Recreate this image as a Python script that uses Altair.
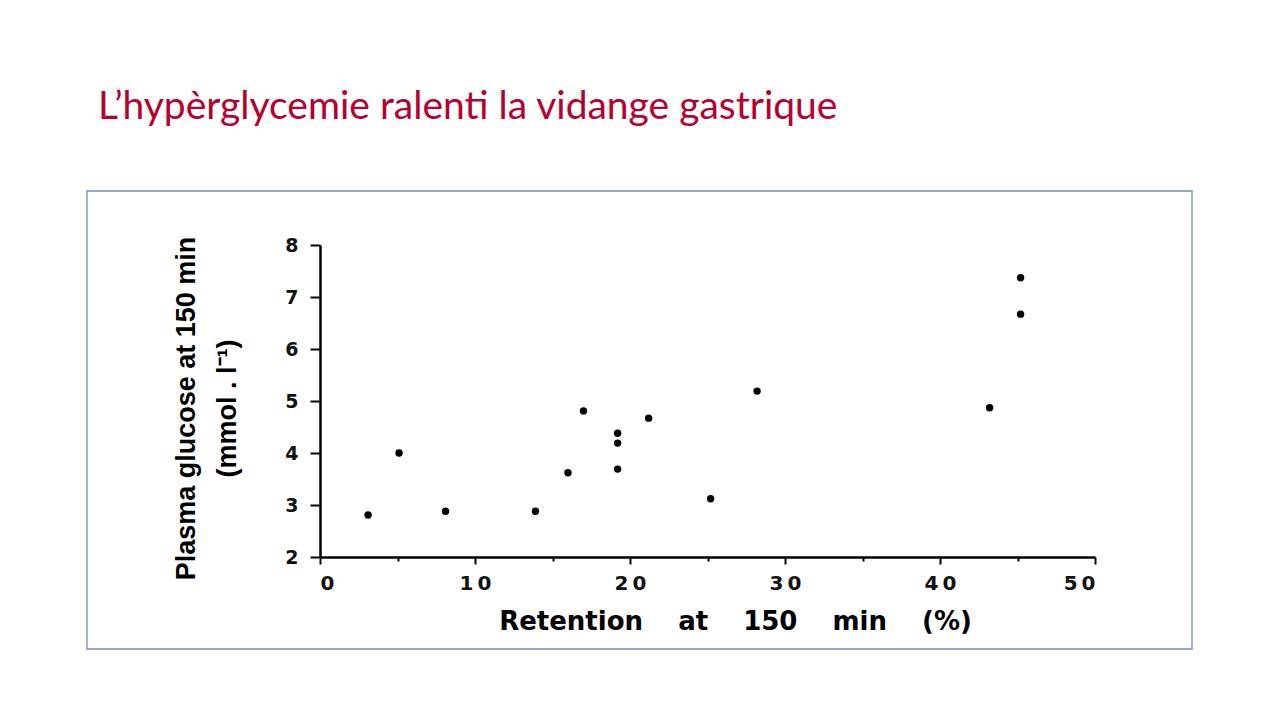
import altair as alt
import pandas as pd

# ---- data ----
retention = [3.1, 5.1, 8.1, 13.9, 16.0, 17.0, 19.2, 19.2, 19.2, 21.2, 25.2, 28.2, 43.2, 45.2, 45.2]
glucose = [2.81, 4.00, 2.88, 2.88, 3.62, 4.81, 3.69, 4.19, 4.38, 4.67, 3.12, 5.19, 4.87, 6.67, 7.37]
x_ticks = [0, 10, 20, 30, 40, 50]
x_minor = [5, 15, 25, 35, 45]
y_ticks = [2, 3, 4, 5, 6, 7, 8]
slide_title = "L\u2019hyp\u00e8rglycemie ralenti la vidange gastrique"
x_title = "Retention\u2003 at\u2003 150\u2003 min\u2003 (%)"
y_title = ["Plasma glucose at 150 min", "(mmol . l\u207b\u00b9)"]

df = pd.DataFrame({"retention": retention, "glucose": glucose})
one = pd.DataFrame({"k": [0]})
minor_df = pd.DataFrame({"m": x_minor})

W, H = 775, 312

xscale = alt.Scale(domain=[0, 50], nice=False, zero=False)
yscale = alt.Scale(domain=[2, 8], nice=False, zero=False)

spaced = "join(split(datum.label, ''), '\u2009')"

points = alt.Chart(df).mark_point(filled=True, color="black", size=55, opacity=1).encode(
    x=alt.X("retention:Q", scale=xscale,
            axis=alt.Axis(orient="bottom", values=x_ticks, format="d", title=x_title,
                          labelExpr=spaced,
                          labelFont="DejaVu Sans", labelFontSize=20, labelFontWeight="bold",
                          labelColor="#111111",
                          labelPadding=9, tickSize=7, tickWidth=2, tickColor="black",
                          domainWidth=2.5, domainColor="black", grid=False,
                          titleFont="DejaVu Sans", titleFontWeight="bold", titleFontSize=26,
                          titleColor="black", titleX=415, titleY=72,
                          titleBaseline="alphabetic")),
    y=alt.Y("glucose:Q", scale=yscale,
            axis=alt.Axis(orient="left", values=y_ticks, format="d", title=y_title,
                          labelFont="DejaVu Sans", labelFontSize=19, labelFontWeight="bold",
                          labelColor="#111111",
                          labelPadding=12, tickSize=10, tickWidth=2, tickColor="black",
                          domainWidth=2.5, domainColor="black", grid=False,
                          titleFont="Liberation Sans", titleFontWeight="bold", titleFontSize=27,
                          titleColor="black", titleLineHeight=41, titleX=-134, titleY=163,
                          titleBaseline="middle", titleAngle=270)),
)

minor = alt.Chart(minor_df).mark_tick(opacity=0).encode(
    x=alt.X("m:Q", scale=xscale,
            axis=alt.Axis(orient="bottom", values=x_minor, labels=False, title=None,
                          domain=False, tickSize=4, tickWidth=2, tickColor="black",
                          grid=False)),
)

frame = alt.Chart(one).mark_rect(fill=None, stroke="#6f8fbf", strokeWidth=1.3).encode(
    x=alt.value(-233), x2=alt.value(872), y=alt.value(-54), y2=alt.value(404)
)

title = alt.Chart(one).mark_text(
    text=slide_title, font="Lato", fontSize=39, color="#b8002e",
    align="left", baseline="alphabetic"
).encode(x=alt.value(-222), y=alt.value(-126))

chart = alt.layer(frame, title, minor, points).resolve_axis(x="independent").properties(
    width=W, height=H,
    autosize=alt.AutoSizeParams(type="none"),
    padding={"left": 312, "top": 237, "right": 170, "bottom": 150},
    background="white",
).configure_view(stroke=None)

chart.save("out.html", embed_options={"renderer": "svg", "actions": False})
